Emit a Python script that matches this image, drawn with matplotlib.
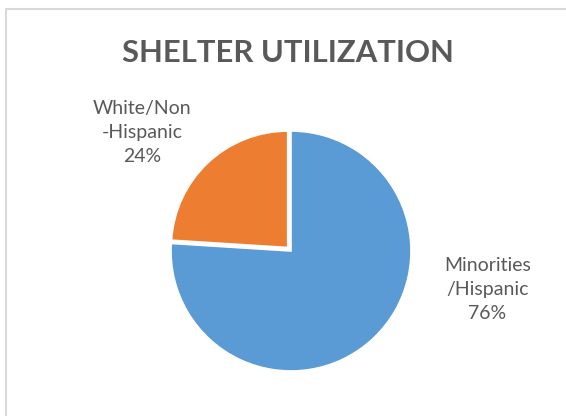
import matplotlib.pyplot as plt
from matplotlib.patches import Rectangle

# Shelter utilization by group (percent)
categories = ["Minorities/Hispanic", "White/Non-Hispanic"]
shares = [76, 24]
colors = ["#5B9BD5", "#ED7D31"]

TEXT_COLOR = "#595959"
W, H = 566, 416


def wrap_label(name):
	# Break the category name before its last separator, as the chart label does
	i = max(name.rfind("/"), name.rfind("-"))
	return name[:i] + "\n" + name[i:] if i > 0 else name


def main():
	plt.rcParams["font.family"] = ["Lato", "DejaVu Sans"]
	fig = plt.figure(figsize=(W / 100, H / 100), dpi=100)

	# Light grey chart area border (right and bottom run off the image)
	fig.patches.append(Rectangle(
		(6 / W, -0.1), 1.2, 1 - 9 / H + 0.1,
		transform=fig.transFigure, fill=False,
		edgecolor="#D9D9D9", linewidth=1.5,
	))

	fig.text(288 / W, 1 - 53 / H, "SHELTER UTILIZATION",
			 ha="center", va="center", fontsize=22.3, fontweight="bold",
			 color=TEXT_COLOR)

	# Pie area: centre and radius in pixels
	cx, cy, r = 291, 251, 120
	ax = fig.add_axes([(cx - r) / W, 1 - (cy + r) / H, 2 * r / W, 2 * r / H])
	wedges, _ = ax.pie(
		shares, colors=colors, startangle=90, counterclock=False,
		explode=[0, 0.04],
		wedgeprops=dict(edgecolor="white", linewidth=1.2),
	)
	wedges[1].set_radius(0.97)
	ax.set_xlim(-1, 1)
	ax.set_ylim(-1, 1)
	ax.axis("off")

	# Data labels outside the pie
	label_pos = [(1.635, -0.32), (-1.24, 0.99)]
	for name, share, (x, y) in zip(categories, shares, label_pos):
		ax.text(x, y, f"{wrap_label(name)}\n{share}%", ha="center", va="center",
				fontsize=14, color=TEXT_COLOR, linespacing=1.5, clip_on=False)

	fig.savefig("out.png", dpi=100)


if __name__ == "__main__":
	main()
